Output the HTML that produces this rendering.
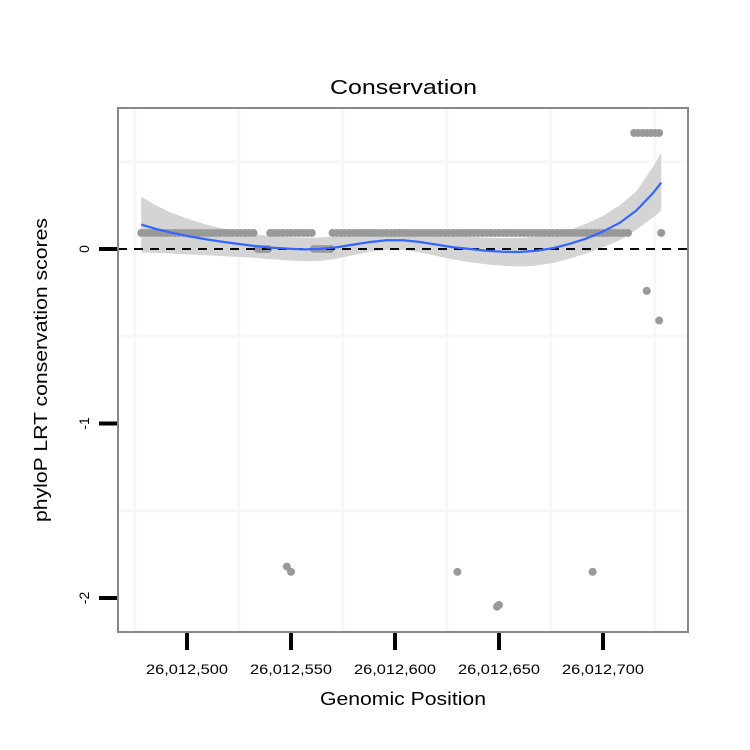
<!DOCTYPE html>
<html><head><meta charset="utf-8"><style>
body{margin:0;background:#fff;}
svg{display:block;font-family:"Liberation Sans",sans-serif;}
</style></head><body>
<svg id="chart" width="750" height="750" viewBox="0 0 750 750">
<rect width="750" height="750" fill="#fff"/>
<text x="330" y="94" font-size="20" textLength="147" lengthAdjust="spacingAndGlyphs">Conservation</text>
<g id="grid"></g>
<g id="ribbon"></g>
<g id="points"></g>
<line x1="118" x2="688" y1="249" y2="249" stroke="#000" stroke-width="2" stroke-dasharray="9,7"/>
<g id="smooth"></g>
<rect x="118" y="108" width="570" height="524" fill="none" stroke="#888" stroke-width="2"/>
<g id="axes"></g>
<text x="320" y="705" font-size="18" textLength="166" lengthAdjust="spacingAndGlyphs">Genomic Position</text>
<text transform="translate(47,522) rotate(-90)" font-size="18" textLength="304" lengthAdjust="spacingAndGlyphs">phyloP LRT conservation scores</text>
</svg>
<script>
const xTicks=[26012500,26012550,26012600,26012650,26012700];
const xTickLabels=["26,012,500","26,012,550","26,012,600","26,012,650","26,012,700"];
const yTicks=[0,-1,-2];
const yTickLabels=["0","-1","-2"];
const yMinor=[0.5,-0.5,-1.5];
const xMinor=[26012475,26012525,26012575,26012625,26012675,26012725];
const bandPos=[478,480,482,484,486,488,490,492,494,496,498,500,502,504,506,508,510,512,514,516,518,520,522,524,526,528,530,532,540,542,544,546,548,550,552,554,556,558,560,570,572,574,576,578,580,582,584,586,588,590,592,594,596,598,600,602,604,606,608,610,612,614,616,618,620,622,624,626,628,630,632,634,636,638,640,642,644,646,648,650,652,654,656,658,660,662,664,666,668,670,672,674,676,678,680,682,684,686,688,690,692,694,696,698,700,702,704,706,708,710,712,728];
const bandVal=0.092;
const otherPos=[534,536,538,539,561,563,565,567,569,715,717,719,721,723,725,727,721,727,548,550,630,649,650,695];
const otherVal=[0,0,0,0,0,0,0,0,0,0.665,0.665,0.665,0.665,0.665,0.665,0.665,-0.24,-0.41,-1.82,-1.85,-1.85,-2.05,-2.04,-1.85];
const smoothPos=[478,485,492,500,508,516,524,532,540,548,556,564,572,580,588,596,604,612,620,628,636,644,652,660,668,676,684,692,700,708,716,724,728];
const smoothVal=[0.14,0.115,0.095,0.075,0.058,0.043,0.03,0.018,0.008,0.002,-0.002,0.0,0.01,0.025,0.04,0.05,0.05,0.04,0.025,0.01,0.0,-0.01,-0.016,-0.017,-0.01,0.005,0.03,0.06,0.1,0.15,0.22,0.32,0.38];
const upperVal=[0.3,0.25,0.21,0.175,0.145,0.12,0.1,0.085,0.075,0.068,0.065,0.066,0.072,0.082,0.095,0.11,0.115,0.105,0.09,0.078,0.07,0.065,0.063,0.064,0.07,0.085,0.11,0.145,0.19,0.25,0.33,0.47,0.55];
const lowerVal=[-0.02,-0.022,-0.025,-0.03,-0.035,-0.04,-0.045,-0.05,-0.058,-0.065,-0.07,-0.068,-0.055,-0.035,-0.015,-0.005,-0.005,-0.02,-0.04,-0.06,-0.075,-0.088,-0.097,-0.1,-0.095,-0.08,-0.055,-0.025,0.01,0.05,0.11,0.18,0.22];
const NS="http://www.w3.org/2000/svg";
const X=p=>187+(p-26012500)*2.08;
const Y=v=>249-v*174.5;
const off=26012000;
function mk(tag,attrs,parent){const e=document.createElementNS(NS,tag);for(const k in attrs)e.setAttribute(k,attrs[k]);document.getElementById(parent).appendChild(e);return e;}
xMinor.forEach(p=>{const e=mk('line',{x1:X(p),x2:X(p),y1:109,y2:631,stroke:'#f7f7f7','stroke-width':3},'grid');

});
yMinor.forEach(v=>{const e=mk('line',{x1:119,x2:687,y1:Y(v),y2:Y(v),stroke:'#f7f7f7','stroke-width':3},'grid');

});
let up=smoothPos.map((p,i)=>X(p+off)+','+Y(upperVal[i]));
let lo=smoothPos.map((p,i)=>X(p+off)+','+Y(lowerVal[i])).reverse();
const rib=mk('polygon',{points:up.concat(lo).join(' '),fill:'#d4d4d4'},'ribbon');


bandPos.forEach(p=>{const c=mk('circle',{cx:X(p+off),cy:Y(bandVal),r:4,fill:'#999'},'points');

});
otherPos.forEach((p,i)=>{const c=mk('circle',{cx:X(p+off),cy:Y(otherVal[i]),r:4,fill:'#999'},'points');

});
const sl=mk('polyline',{points:smoothPos.map((p,i)=>X(p+off)+','+Y(smoothVal[i])).join(' '),fill:'none',stroke:'#3366ff','stroke-width':2.2,'stroke-linejoin':'round'},'smooth');


xTicks.forEach((p,i)=>{const t=mk('line',{x1:X(p),x2:X(p),y1:633,y2:650,stroke:'#000','stroke-width':4},'axes');


const l=mk('text',{x:X(p)-41,y:674,'font-size':14,textLength:82,lengthAdjust:'spacingAndGlyphs'},'axes');l.textContent=xTickLabels[i];

});
yTicks.forEach((v,i)=>{const t=mk('line',{x1:99,x2:117,y1:Y(v),y2:Y(v),stroke:'#000','stroke-width':4},'axes');


const l=mk('text',{transform:`translate(89,${Y(v)}) rotate(-90)`,'font-size':14,'text-anchor':'middle'},'axes');l.textContent=yTickLabels[i];

});
</script>
</body></html>
